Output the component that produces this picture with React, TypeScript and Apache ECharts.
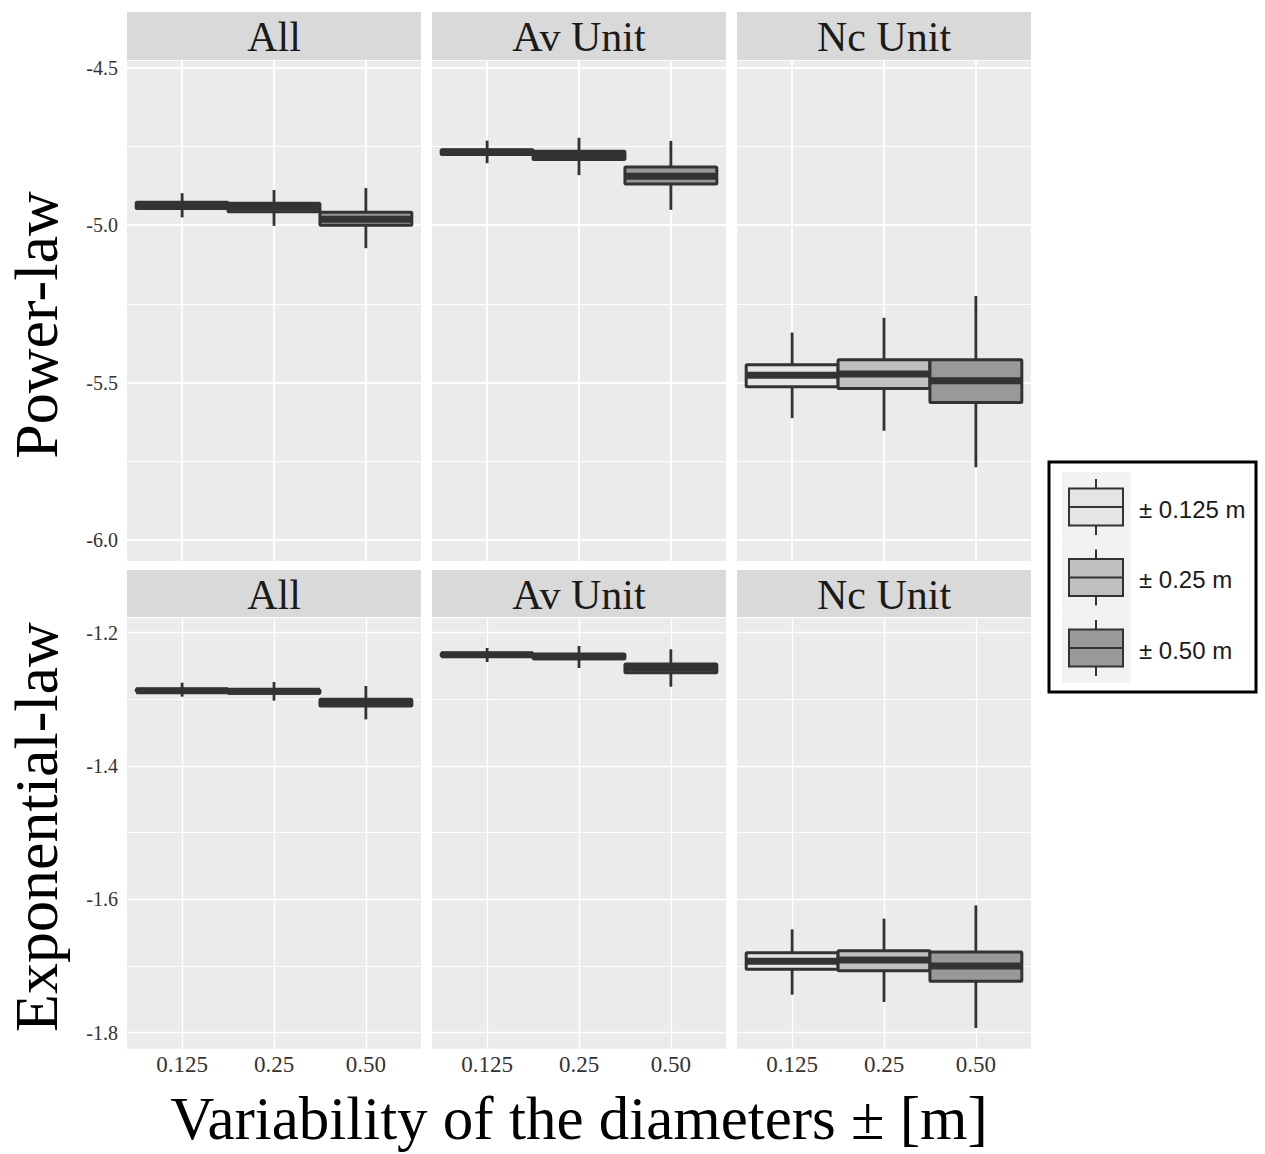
import React, { useEffect, useRef } from 'react';
import * as echarts from 'echarts';

// ---------- data ----------
const xPositions = [1, 2, 3];
const xLabels = ['0.125', '0.25', '0.50'];
const facetLabels = ['All', 'Av Unit', 'Nc Unit'];
const rowTitles = ['Power-law', 'Exponential-law'];
const xTitle = 'Variability of the diameters ± [m]';
const legendLabels = ['± 0.125 m', '± 0.25 m', '± 0.50 m'];

// each row: [min, Q1, median, Q3, max]
const powerAll = [
  [-4.975, -4.947, -4.937, -4.927, -4.898],
  [-5.002, -4.957, -4.943, -4.93, -4.888],
  [-5.073, -5.0, -4.981, -4.959, -4.882],
];
const powerAv = [
  [-4.803, -4.775, -4.768, -4.76, -4.731],
  [-4.841, -4.791, -4.778, -4.765, -4.722],
  [-4.951, -4.869, -4.844, -4.815, -4.732],
];
const powerNc = [
  [-5.613, -5.513, -5.477, -5.443, -5.341],
  [-5.653, -5.519, -5.473, -5.427, -5.294],
  [-5.769, -5.563, -5.494, -5.427, -5.225],
];
const expAll = [
  [-1.296, -1.288, -1.287, -1.285, -1.275],
  [-1.302, -1.291, -1.288, -1.286, -1.274],
  [-1.33, -1.31, -1.305, -1.3, -1.28],
];
const expAv = [
  [-1.244, -1.235, -1.233, -1.231, -1.223],
  [-1.253, -1.239, -1.236, -1.232, -1.22],
  [-1.281, -1.26, -1.253, -1.247, -1.225],
];
const expNc = [
  [-1.743, -1.705, -1.693, -1.68, -1.645],
  [-1.754, -1.707, -1.691, -1.677, -1.629],
  [-1.793, -1.723, -1.7, -1.679, -1.609],
];

const panelData = [powerAll, powerAv, powerNc, expAll, expAv, expNc];

// y ranges per row (as in picture incl. expansion)
const rowYMin = [-6.07, -1.8245];
const rowYMax = [-4.475, -1.1765];

// ---------- styles / layout ----------
const FILLS = ['#E5E5E5', '#BFBFBF', '#999999'];
const OUTLINE = '#333333';
const PANEL_BG = '#EBEBEB';
const STRIP_BG = '#D9D9D9';
const SERIF = '"Liberation Serif", "Times New Roman", serif';
const SANS = '"Liberation Sans", Arial, sans-serif';

const colLeft = [127, 432, 737];
const panelW = 294;
const rowTop = [60, 617];
const rowH = [502, 432];
const stripTop = [12, 570];
const stripH = [48, 47];
const BOX_W = 1.0;

export default function App() {
  const ref = useRef<HTMLDivElement>(null);

  useEffect(() => {
    const chart = echarts.init(ref.current!, null, { renderer: 'svg' });

    const grids: any[] = [];
    const xAxes: any[] = [];
    const yAxes: any[] = [];
    const series: any[] = [];
    const graphics: any[] = [];

    for (let r = 0; r < 2; r++) {
      for (let c = 0; c < 3; c++) {
        const i = r * 3 + c;
        grids.push({
          left: colLeft[c],
          top: rowTop[r],
          width: panelW,
          height: rowH[r],
          show: true,
          backgroundColor: PANEL_BG,
          borderWidth: 0,
          containLabel: false,
        });
        xAxes.push({
          type: 'value',
          gridIndex: i,
          min: 0.4,
          max: 3.6,
          axisLine: { show: false },
          axisTick: { show: false, customValues: xPositions },
          axisLabel: {
            show: r === 1,
            customValues: xPositions,
            formatter: (v: number) => xLabels[Math.round(v) - 1] ?? '',
            fontFamily: SERIF,
            fontSize: 23,
            color: '#333333',
            margin: 4,
          },
          splitLine: {
            show: true,
            customValues: xPositions,
            lineStyle: { color: '#FFFFFF', width: r === 0 ? 1.8 : 1.4 },
          },
        });
        yAxes.push({
          type: 'value',
          gridIndex: i,
          min: rowYMin[r],
          max: rowYMax[r],
          splitNumber: 3,
          axisLine: { show: false },
          axisTick: { show: false },
          minorTick: { show: false, splitNumber: 2 },
          axisLabel: {
            show: c === 0,
            showMinLabel: false,
            showMaxLabel: false,
            formatter: (v: number) => v.toFixed(1),
            fontFamily: SERIF,
            fontSize: 20,
            color: '#333333',
            margin: 9,
          },
          splitLine: {
            show: true,
            lineStyle: { color: '#FFFFFF', width: r === 0 ? 1.8 : 1.4 },
          },
          minorSplitLine: {
            show: true,
            lineStyle: { color: '#FFFFFF', width: r === 0 ? 1.2 : 0.9 },
          },
        });
        series.push({
          type: 'custom',
          xAxisIndex: i,
          yAxisIndex: i,
          data: xPositions.map((x, k) => [x, ...panelData[i][k]]),
          renderItem: (params: any, api: any) => {
            const x = api.value(0);
            const pMin = api.coord([x, api.value(1)]);
            const yQ1 = api.coord([x, api.value(2)])[1];
            const yMed = api.coord([x, api.value(3)])[1];
            const yQ3 = api.coord([x, api.value(4)])[1];
            const yMax = api.coord([x, api.value(5)])[1];
            const cx = pMin[0];
            const yMin = pMin[1];
            const w = api.size([BOX_W, 0])[0];
            const fill = FILLS[Math.round(x) - 1];
            return {
              type: 'group',
              children: [
                {
                  type: 'line',
                  shape: { x1: cx, y1: yMax, x2: cx, y2: yQ3 },
                  style: { stroke: OUTLINE, lineWidth: 2.8 },
                },
                {
                  type: 'line',
                  shape: { x1: cx, y1: yQ1, x2: cx, y2: yMin },
                  style: { stroke: OUTLINE, lineWidth: 2.8 },
                },
                {
                  type: 'rect',
                  shape: { x: cx - w / 2, y: yQ3, width: w, height: yQ1 - yQ3, r: 1 },
                  style: { fill, stroke: OUTLINE, lineWidth: 3 },
                },
                {
                  type: 'line',
                  shape: { x1: cx - w / 2, y1: yMed, x2: cx + w / 2, y2: yMed },
                  style: { stroke: OUTLINE, lineWidth: 7 },
                },
              ],
            };
          },
        });

        // strip
        graphics.push({
          type: 'rect',
          shape: { x: colLeft[c], y: stripTop[r], width: panelW, height: stripH[r] },
          style: { fill: STRIP_BG },
          z: 10,
        });
        graphics.push({
          type: 'text',
          x: colLeft[c] + panelW / 2,
          y: stripTop[r] + stripH[r] / 2 + 1,
          style: {
            text: facetLabels[c],
            font: `42px ${SERIF}`,
            fill: '#1A1A1A',
            textAlign: 'center',
            textVerticalAlign: 'middle',
            align: 'center',
            verticalAlign: 'middle',
          },
          z: 11,
        });
      }
    }

    // row titles
    const rowCenters = [rowTop[0] + rowH[0] / 2 + 14, rowTop[1] + rowH[1] / 2 - 6];
    rowTitles.forEach((t, r) => {
      graphics.push({
        type: 'text',
        x: 36,
        y: rowCenters[r],
        rotation: Math.PI / 2,
        style: {
          text: t,
          font: `62px ${SERIF}`,
          fill: '#000000',
          textAlign: 'center',
          textVerticalAlign: 'middle',
          align: 'center',
          verticalAlign: 'middle',
        },
      });
    });

    // x title
    graphics.push({
      type: 'text',
      x: colLeft[0] + (colLeft[2] + panelW - colLeft[0]) / 2,
      y: 1118,
      style: {
        text: xTitle,
        font: `61px ${SERIF}`,
        fill: '#000000',
        textAlign: 'center',
        textVerticalAlign: 'middle',
        align: 'center',
        verticalAlign: 'middle',
      },
    });

    // legend
    graphics.push({
      type: 'rect',
      shape: { x: 1049, y: 462, width: 207, height: 230 },
      style: { fill: '#FFFFFF', stroke: '#000000', lineWidth: 3 },
    });
    legendLabels.forEach((lab, k) => {
      const top = 472 + k * 70.5;
      const cy = top + 35;
      graphics.push({
        type: 'rect',
        shape: { x: 1062, y: top, width: 69, height: 70 },
        style: { fill: '#F2F2F2' },
      });
      graphics.push({
        type: 'line',
        shape: { x1: 1096, y1: top + 7, x2: 1096, y2: top + 63 },
        style: { stroke: OUTLINE, lineWidth: 2 },
      });
      graphics.push({
        type: 'rect',
        shape: { x: 1069, y: cy - 18.5, width: 54, height: 37 },
        style: { fill: FILLS[k], stroke: OUTLINE, lineWidth: 2 },
      });
      graphics.push({
        type: 'line',
        shape: { x1: 1069, y1: cy, x2: 1123, y2: cy },
        style: { stroke: OUTLINE, lineWidth: 2 },
      });
      graphics.push({
        type: 'text',
        x: 1139,
        y: cy + 2,
        style: {
          text: lab,
          font: `24px ${SANS}`,
          fill: '#1A1A1A',
          textAlign: 'left',
          textVerticalAlign: 'middle',
          align: 'left',
          verticalAlign: 'middle',
        },
      });
    });

    chart.setOption({
      animation: false,
      backgroundColor: '#FFFFFF',
      grid: grids,
      xAxis: xAxes,
      yAxis: yAxes,
      series,
      graphic: { elements: graphics },
    });

    return () => chart.dispose();
  }, []);

  return (
    <div
      ref={ref}
      style={{ position: 'absolute', left: 0, top: 0, width: 1265, height: 1154 }}
    />
  );
}
